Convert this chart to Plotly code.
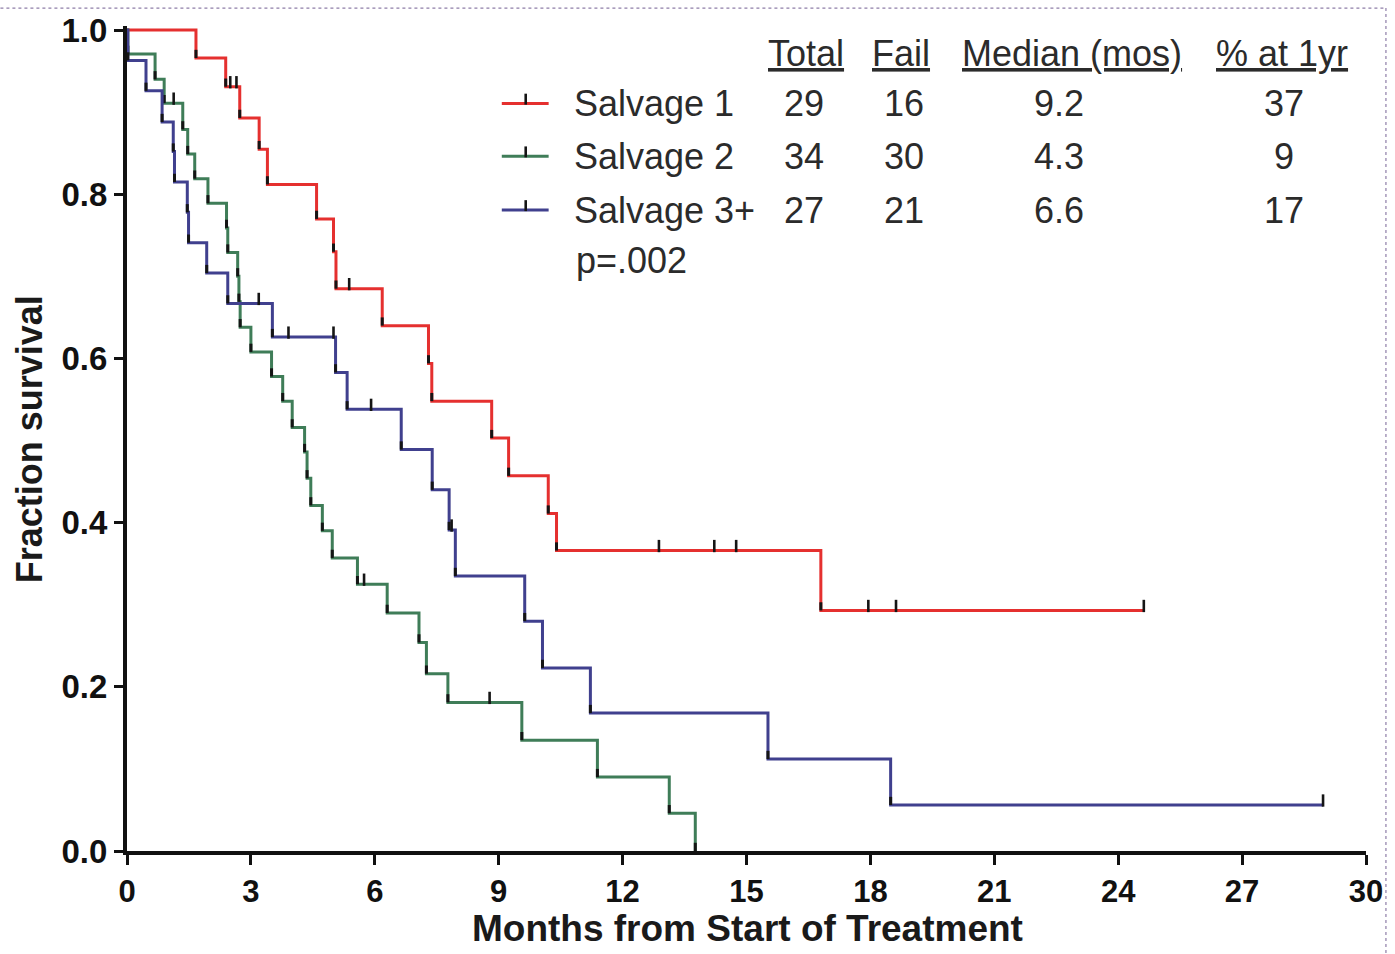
import plotly.graph_objects as go

# ---------------- data ----------------
# Salvage 1 (red): event times (months) and survival after each event
s1_times = [1.67, 2.39, 2.73, 3.20, 3.40, 4.59, 5.00, 5.06, 6.18, 7.30, 7.38, 8.83, 9.24, 10.20, 10.40, 16.80]
s1_surv = [0.966, 0.931, 0.893, 0.855, 0.812, 0.770, 0.730, 0.685, 0.640, 0.594, 0.548, 0.503, 0.457, 0.411, 0.366, 0.293]
s1_censor = [2.50, 2.65, 5.38, 12.88, 14.22, 14.75, 17.95, 18.62, 24.62]
s1_end = 24.62

# Salvage 2 (green)
s2_times = [0.02, 0.68, 0.90, 1.35, 1.47, 1.64, 1.96, 2.41, 2.44, 2.68, 2.71, 2.74, 3.00, 3.50, 3.77, 4.00,
            4.30, 4.36, 4.45, 4.73, 4.97, 5.58, 6.30, 7.07, 7.25, 7.77, 9.56, 11.39, 13.13, 13.76]
s2_surv = [0.971, 0.940, 0.911, 0.879, 0.849, 0.819, 0.789, 0.759, 0.729, 0.700, 0.669, 0.638, 0.608, 0.578,
           0.548, 0.516, 0.486, 0.454, 0.421, 0.390, 0.357, 0.325, 0.290, 0.254, 0.216, 0.181, 0.135, 0.090,
           0.046, 0.0]
s2_censor = [1.13, 5.74, 8.78]
s2_end = 13.76

# Salvage 3+ (blue)
s3_times = [0.02, 0.46, 0.85, 1.12, 1.15, 1.46, 1.49, 1.93, 2.44, 3.52, 5.05, 5.33, 6.64, 7.39, 7.80, 7.95,
            9.63, 10.06, 11.22, 15.52, 18.49]
s3_surv = [0.963, 0.926, 0.888, 0.852, 0.815, 0.778, 0.741, 0.704, 0.667, 0.626, 0.583, 0.538, 0.489, 0.440,
           0.391, 0.335, 0.280, 0.223, 0.168, 0.112, 0.056]
s3_censor = [3.19, 3.91, 5.00, 5.91, 7.86, 28.96]
s3_end = 28.96

series_names = ["Salvage 1", "Salvage 2", "Salvage 3+"]
series_colors = ["#e5302f", "#3f7d58", "#40408e"]
table_headers = ["Total", "Fail", "Median (mos)", "% at 1yr"]
table_total = ["29", "34", "27"]
table_fail = ["16", "30", "21"]
table_median = ["9.2", "4.3", "6.6"]
table_1yr = ["37", "9", "17"]
p_value_text = "p=.002"

x_ticks = [0, 3, 6, 9, 12, 15, 18, 21, 24, 27, 30]
y_ticks = [0.0, 0.2, 0.4, 0.6, 0.8, 1.0]
x_title = "Months from Start of Treatment"
y_title = "Fraction survival"

# ---------------- build figure ----------------
def level_at(times, surv, t):
    lv = 1.0
    for tt, ss in zip(times, surv):
        if tt <= t:
            lv = ss
    return lv

fig = go.Figure()
series = [
    (s1_times, s1_surv, s1_censor, s1_end),
    (s2_times, s2_surv, s2_censor, s2_end),
    (s3_times, s3_surv, s3_censor, s3_end),
]
TICK_UP = 0.013
for (times, surv, cens, end), name, col in zip(series, series_names, series_colors):
    xs = [0.0] + list(times) + [end]
    ys = [1.0] + list(surv) + [surv[-1]]
    fig.add_trace(go.Scatter(x=xs, y=ys, mode="lines", line=dict(color=col, width=3, shape="hv"),
                             name=name, showlegend=False, hoverinfo="skip"))
    # black marks at the foot of each drop
    fig.add_trace(go.Scatter(x=list(times), y=list(surv), mode="markers",
                             marker=dict(size=1, color="rgba(0,0,0,0)"),
                             error_y=dict(type="data", symmetric=False, array=[0.010] * len(times),
                                          arrayminus=[0] * len(times), width=0, thickness=3, color="#151515"),
                             showlegend=False, hoverinfo="skip", cliponaxis=False))
    # censor ticks
    cy = [level_at(times, surv, c) for c in cens]
    fig.add_trace(go.Scatter(x=cens, y=cy, mode="markers",
                             marker=dict(size=1, color="rgba(0,0,0,0)"),
                             error_y=dict(type="data", symmetric=False, array=[TICK_UP] * len(cens),
                                          arrayminus=[0.002] * len(cens), width=0, thickness=2.6, color="#151515"),
                             showlegend=False, hoverinfo="skip", cliponaxis=False))

# ---------------- legend / table (paper coords) ----------------
L, W, T, H = 127, 1243, 18, 833
Y0 = 851  # pixel of y=0
def px(x):
    return (x - L) / W
def py(y):
    return (Y0 - y) / 829.0

txt_font = dict(family="Arial, Liberation Sans, sans-serif", size=36, color="#2b2b2b")
header_x = [808, 903, 1075, 1286]
for hx, htxt in zip(header_x, table_headers):
    fig.add_annotation(x=px(hx), y=py(50), xref="paper", yref="paper", text="<u>" + htxt + "</u>",
                       showarrow=False, xanchor="center", yanchor="middle", font=txt_font)

row_y = [100, 153, 207]
col_x = [806, 907, 1062, 1288]
for i in range(3):
    ry = row_y[i]
    fig.add_annotation(x=px(573), y=py(ry), xref="paper", yref="paper", text=series_names[i],
                       showarrow=False, xanchor="left", yanchor="middle", font=txt_font)
    for cx, vals in zip(col_x, [table_total, table_fail, table_median, table_1yr]):
        fig.add_annotation(x=px(cx), y=py(ry), xref="paper", yref="paper", text=vals[i],
                           showarrow=False, xanchor="center", yanchor="middle", font=txt_font)
    # legend sample line with tick
    fig.add_shape(type="line", xref="paper", yref="paper", x0=px(503), x1=px(550), y0=py(ry), y1=py(ry),
                  line=dict(color=series_colors[i], width=3))
    fig.add_shape(type="line", xref="paper", yref="paper", x0=px(527), x1=px(527), y0=py(ry + 1), y1=py(ry - 10),
                  line=dict(color="#151515", width=2.6))

fig.add_annotation(x=px(575), y=py(258), xref="paper", yref="paper", text=p_value_text,
                   showarrow=False, xanchor="left", yanchor="middle", font=txt_font)

# axis titles
fig.add_annotation(x=px(750), y=py(929), xref="paper", yref="paper", text="<b>" + x_title + "</b>",
                   showarrow=False, xanchor="center", yanchor="middle",
                   font=dict(family="Arial, Liberation Sans, sans-serif", size=37, color="#1a1a1a"))
fig.add_annotation(x=px(30), y=py(437), xref="paper", yref="paper", text="<b>" + y_title + "</b>",
                   showarrow=False, xanchor="center", yanchor="middle", textangle=-90,
                   font=dict(family="Arial, Liberation Sans, sans-serif", size=36, color="#1a1a1a"))

# dotted frame of the original screenshot
fig.add_shape(type="line", xref="paper", yref="paper", x0=px(0), x1=px(1390), y0=py(4), y1=py(4),
              line=dict(color="#8e7ea8", width=1.2, dash="dot"))
fig.add_shape(type="line", xref="paper", yref="paper", x0=px(1390), x1=px(1390), y0=py(4), y1=py(954),
              line=dict(color="#8e7ea8", width=1.2, dash="dot"))

x_font = dict(family="Arial, Liberation Sans, sans-serif", size=31, color="#111111", weight="bold")
y_font = dict(family="Arial, Liberation Sans, sans-serif", size=33, color="#111111", weight="bold")
fig.update_layout(
    width=1395, height=954,
    margin=dict(l=L, r=1395 - L - W, t=T, b=954 - T - H),
    paper_bgcolor="white", plot_bgcolor="white",
    showlegend=False,
    xaxis=dict(range=[0, 30], tickvals=x_ticks, ticktext=[str(v) for v in x_ticks],
               showline=True, linecolor="#111111", linewidth=4, ticks="outside", ticklen=10, tickwidth=3,
               tickcolor="#111111", showgrid=False, zeroline=False, tickfont=x_font),
    yaxis=dict(range=[0, 1.005], tickvals=y_ticks, ticktext=["%.1f" % v for v in y_ticks],
               showline=True, linecolor="#111111", linewidth=4, ticks="outside", ticklen=9, tickwidth=3,
               tickcolor="#111111", showgrid=False, zeroline=False, tickfont=y_font),
)

fig.write_html("out.html")
